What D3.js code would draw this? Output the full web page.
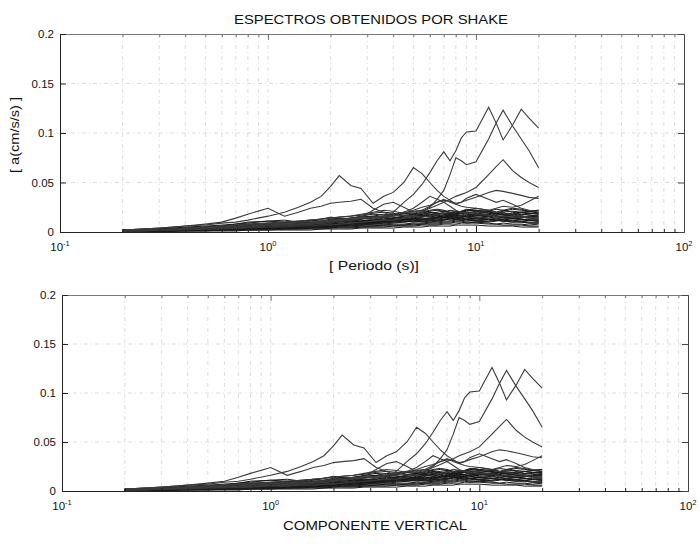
<!DOCTYPE html>
<html>
<head>
<meta charset="utf-8">
<script src="https://cdn.jsdelivr.net/npm/d3@7"></script>
<style>
  body { margin: 0; background: #fff; }
  svg { display: block; }
  text { font-family: "Liberation Sans", Arial, Helvetica, sans-serif; fill: #111; }
</style>
</head>
<body>
<svg id="chart" width="700" height="560"></svg>
<script>
// Periods (s) at which each response spectrum is sampled
const periods = [0.2, 0.25, 0.3, 0.35, 0.4, 0.5, 0.6, 0.7, 0.8,
  1.0, 1.2, 1.4, 1.6, 1.8, 2.0, 2.2, 2.5, 2.8,
  3.2, 3.6, 4.0, 4.5, 5.0, 5.5, 6.0, 6.5, 7.0, 7.5, 8.0, 8.5, 9.0,
  10, 11.5, 12.5, 13.5, 15, 16.5, 18, 20];

// Spectral ordinates a (cm/s/s), one array per record
const specA = [0.002,0.003,0.004,0.005,0.006,0.007,0.009,0.010,0.012, 0.016,0.020,0.025,0.030,0.036,0.046,0.057,0.047,0.044, 0.029,0.036,0.040,0.050,0.065,0.059,0.050,0.042,0.036,0.032,0.028,0.026,0.025, 0.024,0.022,0.020,0.019,0.017,0.016,0.015,0.014];
const specB = [0.002,0.003,0.004,0.005,0.006,0.008,0.010,0.014,0.018, 0.024,0.016,0.020,0.024,0.026,0.029,0.030,0.031,0.033, 0.024,0.020,0.016,0.020,0.024,0.030,0.036,0.033,0.030,0.026,0.022,0.020,0.019, 0.018,0.017,0.016,0.016,0.015,0.015,0.014,0.012];
const specC = [0.001,0.002,0.002,0.003,0.003,0.004,0.004,0.005,0.005, 0.006,0.007,0.008,0.009,0.010,0.011,0.012,0.013,0.014, 0.013,0.016,0.020,0.030,0.038,0.048,0.060,0.072,0.081,0.072,0.082,0.095,0.101, 0.102,0.126,0.110,0.093,0.108,0.124,0.115,0.105];
const specD = [0.001,0.001,0.002,0.002,0.002,0.003,0.003,0.004,0.004, 0.005,0.005,0.006,0.006,0.007,0.007,0.008,0.009,0.010, 0.011,0.012,0.012,0.014,0.016,0.020,0.025,0.033,0.042,0.058,0.075,0.072,0.068, 0.071,0.094,0.110,0.123,0.107,0.094,0.082,0.065];
const specE = [0.001,0.002,0.002,0.003,0.003,0.004,0.005,0.005,0.006, 0.007,0.008,0.008,0.009,0.010,0.011,0.012,0.013,0.014, 0.015,0.016,0.018,0.020,0.019,0.021,0.024,0.027,0.030,0.033,0.036,0.038,0.040, 0.045,0.058,0.066,0.073,0.062,0.055,0.050,0.045];
const specF = [0.002,0.002,0.003,0.003,0.004,0.005,0.006,0.007,0.008, 0.009,0.010,0.011,0.012,0.013,0.014,0.015,0.016,0.018, 0.020,0.022,0.021,0.019,0.022,0.025,0.027,0.030,0.032,0.031,0.029,0.030,0.032, 0.035,0.040,0.042,0.041,0.039,0.037,0.035,0.034];
const specG = [0.001,0.001,0.002,0.002,0.003,0.003,0.004,0.004,0.005, 0.006,0.006,0.007,0.008,0.009,0.010,0.011,0.012,0.013, 0.014,0.015,0.016,0.017,0.016,0.015,0.016,0.018,0.019,0.020,0.021,0.020,0.019, 0.020,0.022,0.024,0.026,0.025,0.027,0.031,0.036];
const specH = [0.001,0.002,0.002,0.003,0.003,0.004,0.005,0.006,0.007, 0.008,0.009,0.010,0.010,0.011,0.012,0.013,0.014,0.015, 0.022,0.028,0.030,0.025,0.020,0.022,0.026,0.030,0.033,0.030,0.028,0.030,0.034, 0.038,0.033,0.030,0.032,0.028,0.024,0.022,0.020];

// Lower-amplitude records forming the dense band
const low01 = [0.001,0.001,0.002,0.002,0.002,0.003,0.003,0.004,0.004, 0.005,0.006,0.006,0.007,0.008,0.008,0.009,0.010,0.011, 0.012,0.013,0.014,0.016,0.017,0.018,0.019,0.020,0.021,0.020,0.019,0.020,0.021, 0.022,0.020,0.019,0.020,0.021,0.020,0.019,0.020];
const low02 = [0.001,0.002,0.002,0.003,0.003,0.004,0.005,0.006,0.007, 0.008,0.009,0.010,0.012,0.011,0.013,0.014,0.013,0.015, 0.016,0.018,0.017,0.019,0.021,0.022,0.020,0.018,0.020,0.022,0.021,0.019,0.018, 0.017,0.018,0.016,0.015,0.014,0.015,0.014,0.013];
const low03 = [0.002,0.002,0.003,0.003,0.004,0.005,0.006,0.008,0.010, 0.011,0.010,0.009,0.011,0.013,0.015,0.014,0.012,0.011, 0.013,0.015,0.017,0.019,0.018,0.016,0.015,0.017,0.019,0.018,0.016,0.017,0.019, 0.021,0.019,0.017,0.018,0.016,0.015,0.016,0.017];
const low04 = [0.001,0.001,0.001,0.002,0.002,0.002,0.003,0.003,0.004, 0.004,0.005,0.005,0.006,0.006,0.007,0.007,0.008,0.009, 0.009,0.010,0.011,0.012,0.012,0.013,0.014,0.013,0.014,0.015,0.016,0.015,0.016, 0.017,0.016,0.015,0.016,0.017,0.016,0.015,0.016];
const low05 = [0.002,0.003,0.003,0.004,0.005,0.006,0.007,0.008,0.009, 0.011,0.012,0.010,0.009,0.010,0.012,0.013,0.012,0.011, 0.012,0.014,0.013,0.012,0.014,0.016,0.015,0.014,0.016,0.018,0.017,0.016,0.015, 0.014,0.013,0.014,0.015,0.014,0.013,0.012,0.012];
const low06 = [0.001,0.001,0.001,0.001,0.002,0.002,0.002,0.003,0.003, 0.003,0.004,0.004,0.005,0.005,0.006,0.006,0.007,0.007, 0.008,0.008,0.009,0.010,0.011,0.010,0.011,0.012,0.013,0.012,0.013,0.014,0.013, 0.012,0.013,0.012,0.011,0.012,0.013,0.012,0.011];
const low07 = [0.001,0.002,0.002,0.002,0.003,0.003,0.004,0.004,0.005, 0.006,0.007,0.008,0.008,0.009,0.010,0.011,0.012,0.013, 0.015,0.016,0.018,0.020,0.019,0.017,0.016,0.015,0.017,0.019,0.020,0.021,0.022, 0.021,0.020,0.018,0.017,0.016,0.018,0.019,0.018];
const low08 = [0.001,0.001,0.002,0.002,0.002,0.003,0.003,0.003,0.004, 0.004,0.005,0.005,0.006,0.006,0.006,0.007,0.007,0.008, 0.009,0.009,0.010,0.010,0.011,0.012,0.013,0.014,0.015,0.016,0.017,0.016,0.015, 0.016,0.018,0.019,0.018,0.017,0.016,0.015,0.014];
const low09 = [0.002,0.002,0.003,0.003,0.003,0.004,0.005,0.006,0.006, 0.007,0.008,0.008,0.009,0.010,0.009,0.008,0.009,0.010, 0.011,0.012,0.014,0.015,0.016,0.018,0.020,0.019,0.018,0.017,0.018,0.020,0.022, 0.024,0.022,0.020,0.019,0.018,0.020,0.021,0.022];
const low10 = [0.001,0.001,0.001,0.002,0.002,0.002,0.003,0.003,0.003, 0.004,0.004,0.004,0.005,0.005,0.005,0.006,0.006,0.007, 0.007,0.007,0.008,0.008,0.009,0.009,0.010,0.010,0.011,0.011,0.012,0.012,0.011, 0.012,0.013,0.012,0.011,0.010,0.011,0.010,0.010];
const low11 = [0.001,0.002,0.002,0.003,0.003,0.004,0.004,0.005,0.006, 0.007,0.007,0.008,0.009,0.010,0.011,0.012,0.014,0.016, 0.018,0.017,0.015,0.014,0.013,0.015,0.017,0.019,0.018,0.016,0.015,0.014,0.016, 0.018,0.017,0.016,0.015,0.014,0.013,0.012,0.011];
const low12 = [0.001,0.001,0.001,0.001,0.001,0.002,0.002,0.002,0.002, 0.003,0.003,0.003,0.004,0.004,0.004,0.005,0.005,0.005, 0.006,0.006,0.006,0.007,0.007,0.008,0.008,0.008,0.009,0.009,0.010,0.010,0.009, 0.010,0.009,0.008,0.009,0.008,0.008,0.007,0.008];
const low13 = [0.001,0.002,0.002,0.002,0.003,0.003,0.004,0.005,0.005, 0.006,0.007,0.007,0.008,0.009,0.010,0.010,0.011,0.012, 0.011,0.010,0.012,0.013,0.015,0.017,0.018,0.017,0.016,0.015,0.014,0.015,0.017, 0.019,0.021,0.023,0.022,0.020,0.018,0.017,0.016];
const low14 = [0.001,0.001,0.002,0.002,0.002,0.003,0.003,0.004,0.004, 0.005,0.005,0.006,0.006,0.007,0.007,0.008,0.009,0.009, 0.010,0.011,0.012,0.011,0.010,0.011,0.012,0.014,0.015,0.014,0.013,0.012,0.013, 0.014,0.015,0.014,0.013,0.014,0.015,0.016,0.015];
const low15 = [0.001,0.001,0.001,0.002,0.002,0.003,0.003,0.003,0.004, 0.004,0.005,0.006,0.006,0.006,0.007,0.008,0.008,0.009, 0.010,0.012,0.013,0.014,0.013,0.012,0.013,0.015,0.016,0.017,0.018,0.017,0.016, 0.015,0.016,0.017,0.018,0.019,0.020,0.019,0.018];
const low16 = [0.000,0.001,0.001,0.001,0.001,0.001,0.002,0.002,0.002, 0.002,0.003,0.003,0.003,0.003,0.004,0.004,0.004,0.005, 0.005,0.005,0.006,0.006,0.006,0.007,0.007,0.007,0.008,0.008,0.008,0.009,0.009, 0.009,0.008,0.008,0.007,0.007,0.007,0.006,0.006];
const low17 = [0.001,0.001,0.002,0.002,0.003,0.003,0.004,0.004,0.005, 0.006,0.006,0.007,0.008,0.008,0.009,0.010,0.011,0.010, 0.009,0.010,0.011,0.012,0.014,0.013,0.012,0.011,0.012,0.013,0.014,0.013,0.012, 0.011,0.010,0.011,0.012,0.011,0.010,0.009,0.009];
const low18 = [0.001,0.001,0.001,0.001,0.002,0.002,0.002,0.002,0.003, 0.003,0.003,0.004,0.004,0.004,0.005,0.005,0.005,0.006, 0.006,0.007,0.007,0.007,0.008,0.008,0.009,0.009,0.010,0.010,0.011,0.011,0.010, 0.010,0.011,0.012,0.011,0.010,0.010,0.009,0.009];
const low19 = [0.001,0.002,0.002,0.003,0.003,0.004,0.005,0.006,0.007, 0.008,0.009,0.009,0.010,0.011,0.012,0.013,0.014,0.015, 0.016,0.015,0.014,0.016,0.018,0.019,0.021,0.022,0.021,0.019,0.018,0.019,0.020, 0.019,0.018,0.019,0.021,0.023,0.022,0.021,0.022];
const low20 = [0.000,0.000,0.001,0.001,0.001,0.001,0.001,0.001,0.002, 0.002,0.002,0.002,0.002,0.003,0.003,0.003,0.003,0.004, 0.004,0.004,0.004,0.005,0.005,0.005,0.006,0.006,0.006,0.006,0.007,0.007,0.007, 0.007,0.006,0.006,0.006,0.006,0.005,0.005,0.005];
const low21 = [0.001,0.001,0.001,0.002,0.002,0.002,0.003,0.003,0.003, 0.004,0.004,0.005,0.005,0.006,0.006,0.007,0.008,0.008, 0.009,0.010,0.011,0.012,0.013,0.014,0.013,0.012,0.013,0.014,0.013,0.012,0.013, 0.014,0.013,0.012,0.013,0.012,0.011,0.012,0.013];
const low22 = [0.002,0.002,0.003,0.004,0.004,0.005,0.006,0.007,0.008, 0.009,0.010,0.011,0.012,0.013,0.014,0.015,0.016,0.017, 0.019,0.020,0.019,0.017,0.018,0.020,0.022,0.023,0.022,0.020,0.019,0.021,0.023, 0.022,0.021,0.020,0.022,0.024,0.023,0.021,0.020];
const low23 = [0.001,0.001,0.001,0.001,0.002,0.002,0.002,0.003,0.003, 0.003,0.004,0.004,0.004,0.005,0.005,0.006,0.006,0.007, 0.008,0.009,0.010,0.011,0.012,0.011,0.010,0.011,0.012,0.014,0.015,0.014,0.013, 0.012,0.011,0.012,0.013,0.014,0.013,0.012,0.011];
const low24 = [0.001,0.001,0.001,0.002,0.002,0.002,0.003,0.003,0.004, 0.004,0.005,0.005,0.006,0.007,0.007,0.008,0.009,0.010, 0.010,0.011,0.012,0.013,0.014,0.016,0.017,0.016,0.015,0.016,0.018,0.019,0.018, 0.017,0.016,0.017,0.019,0.018,0.017,0.018,0.019];

const lowSpectra = [low01, low02, low03, low04, low05, low06, low07, low08, low09, low10, low11,
  low12, low13, low14, low15, low16, low17, low18, low19, low20, low21, low22, low23, low24];
const strongSpectra = [specH, specG, specF, specE, specB, specA, specD, specC];

// Axis ticks and labels
const xMajor = [0.1, 1, 10, 100];
const xMajorExp = ["-1", "0", "1", "2"];
const xMinor = [0.2, 0.3, 0.4, 0.5, 0.6, 0.7, 0.8, 0.9, 2, 3, 4, 5, 6, 7, 8, 9,
  20, 30, 40, 50, 60, 70, 80, 90];
const yTicks = [0, 0.05, 0.1, 0.15, 0.2];
const yTickLabels = ["0", "0.05", "0.1", "0.15", "0.2"];

const titleText = "ESPECTROS OBTENIDOS POR SHAKE";
const xLabelTop = "[ Periodo (s)]";
const yLabelText = "[ a(cm/s/s) ]";
const xLabelBottom = "COMPONENTE VERTICAL";

const svg = d3.select("#chart");

const panels = [
  { left: 60, right: 684, top: 34, bottom: 232 },
  { left: 62, right: 688, top: 295, bottom: 491 }
];

function drawPanel(p) {
  const x = d3.scaleLog().domain([0.1, 100]).range([p.left, p.right]);
  const y = d3.scaleLinear().domain([0, 0.2]).range([p.bottom, p.top]);
  const g = svg.append("g");

  // faint dash-dot grid at every decade subdivision and y tick
  g.append("g").selectAll("line")
    .data(xMajor.slice(1, -1).concat(xMinor))
    .join("line")
    .attr("x1", d => x(d)).attr("x2", d => x(d))
    .attr("y1", p.top).attr("y2", p.bottom)
    .attr("stroke", "#cfcfcf").attr("stroke-width", 0.7)
    .attr("stroke-dasharray", "4,3,1,3");
  g.append("g").selectAll("line")
    .data(yTicks.slice(1, -1))
    .join("line")
    .attr("x1", p.left).attr("x2", p.right)
    .attr("y1", d => y(d)).attr("y2", d => y(d))
    .attr("stroke", "#cfcfcf").attr("stroke-width", 0.7)
    .attr("stroke-dasharray", "4,3,1,3");

  // spectra
  const line = d3.line()
    .defined(d => d[0] !== undefined && d[1] !== undefined)
    .x(d => x(d[0])).y(d => y(d[1]));
  const toPts = vals => vals.map((v, i) => [periods[i], v]);

  g.append("g").selectAll("path")
    .data(lowSpectra)
    .join("path")
    .attr("d", d => line(toPts(d)))
    .attr("fill", "none").attr("stroke", "#1a1a1a").attr("stroke-width", 1);
  g.append("g").selectAll("path")
    .data(strongSpectra)
    .join("path")
    .attr("d", d => line(toPts(d)))
    .attr("fill", "none").attr("stroke", "#3a3a3a").attr("stroke-width", 1.1);

  // axes with inward ticks
  const styleAxis = (sel, color) => {
    sel.select(".domain").attr("stroke", color);
    sel.selectAll(".tick line").attr("stroke", color);
  };
  g.append("g").attr("transform", `translate(0,${p.bottom})`)
    .call(d3.axisBottom(x).tickValues(xMinor).tickSize(-3).tickSizeOuter(0).tickFormat(""))
    .call(s => styleAxis(s, "#222"));
  g.append("g").attr("transform", `translate(0,${p.bottom})`)
    .call(d3.axisBottom(x).tickValues(xMajor).tickSize(-6).tickSizeOuter(0).tickFormat(""))
    .call(s => styleAxis(s, "#222"));
  g.append("g").attr("transform", `translate(0,${p.top})`)
    .call(d3.axisTop(x).tickValues(xMinor).tickSize(-3).tickSizeOuter(0).tickFormat(""))
    .call(s => styleAxis(s, "#777"));
  g.append("g").attr("transform", `translate(0,${p.top})`)
    .call(d3.axisTop(x).tickValues(xMajor).tickSize(-6).tickSizeOuter(0).tickFormat(""))
    .call(s => styleAxis(s, "#777"));
  g.append("g").attr("transform", `translate(${p.left},0)`)
    .call(d3.axisLeft(y).tickValues(yTicks).tickSize(-6).tickSizeOuter(0).tickFormat(""))
    .call(s => styleAxis(s, "#222"));
  g.append("g").attr("transform", `translate(${p.right},0)`)
    .call(d3.axisRight(y).tickValues(yTicks).tickSize(-6).tickSizeOuter(0).tickFormat(""))
    .call(s => styleAxis(s, "#444"));

  // y tick labels
  g.append("g").selectAll("text")
    .data(yTicks)
    .join("text")
    .attr("x", p.left - 6)
    .attr("y", d => y(d) + 4)
    .attr("text-anchor", "end")
    .attr("font-size", 11.5)
    .text((d, i) => yTickLabels[i]);

  // x tick labels as powers of ten
  const xl = g.append("g").selectAll("text")
    .data(xMajor)
    .join("text")
    .attr("x", d => x(d))
    .attr("y", p.bottom + 19)
    .attr("text-anchor", "middle")
    .attr("font-size", 11.5);
  xl.append("tspan").text("10");
  xl.append("tspan").attr("dy", -5).attr("font-size", 7.5).text((d, i) => xMajorExp[i]);

  return { x, y };
}

drawPanel(panels[0]);
drawPanel(panels[1]);

svg.append("text")
  .attr("x", 371).attr("y", 24)
  .attr("text-anchor", "middle").attr("font-size", 13.5)
  .attr("textLength", 274).attr("lengthAdjust", "spacingAndGlyphs")
  .text(titleText);

svg.append("text")
  .attr("x", 374).attr("y", 270)
  .attr("text-anchor", "middle").attr("font-size", 12)
  .attr("textLength", 90).attr("lengthAdjust", "spacingAndGlyphs")
  .text(xLabelTop);

svg.append("text")
  .attr("transform", "translate(19,135) rotate(-90)")
  .attr("text-anchor", "middle").attr("font-size", 12)
  .attr("textLength", 76).attr("lengthAdjust", "spacingAndGlyphs")
  .text(yLabelText);

svg.append("text")
  .attr("x", 375).attr("y", 530)
  .attr("text-anchor", "middle").attr("font-size", 13)
  .attr("textLength", 184).attr("lengthAdjust", "spacingAndGlyphs")
  .text(xLabelBottom);
</script>
</body>
</html>
